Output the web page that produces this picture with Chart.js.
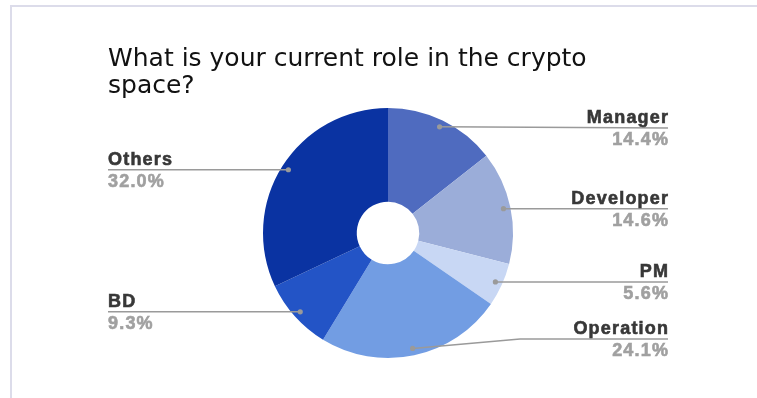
<!DOCTYPE html>
<html>
<head>
<meta charset="utf-8">
<script src="https://cdn.jsdelivr.net/npm/chart.js@4"></script>
<style>
  html, body { margin: 0; padding: 0; background: #ffffff; overflow: hidden; }
  #frame {
    position: absolute; left: 10px; top: 5px; width: 747px; height: 393px;
    border-left: 2px solid #dcdcea; border-top: 2px solid #dcdcea; box-sizing: border-box;
  }
  #wrap { position: absolute; left: 0; top: 0; width: 757px; height: 398px; }
</style>
</head>
<body>
<div id="frame"></div>
<div id="wrap"><canvas id="c"></canvas></div>
<script>
// Survey answers: share of respondents per role (percent)
const roles = ['Manager', 'Developer', 'PM', 'Operation', 'BD', 'Others'];
const shares = [14.4, 14.6, 5.6, 24.1, 9.3, 32.0];
const sliceColors = ['#4f6bbf', '#9badd9', '#c8d7f4', '#729de3', '#2354c6', '#0a33a2'];
const titleLines = ['What is your current role in the crypto', 'space?'];

// Leader lines with name / percentage labels in two columns beside the ring
const leaderLabels = {
  id: 'leaderLabels',
  afterDatasetsDraw(chart) {
    const { ctx, chartArea } = chart;
    const meta = chart.getDatasetMeta(0);
    ctx.save();
    meta.data.forEach((arc, i) => {
      const p = arc.getProps(['x', 'y', 'startAngle', 'endAngle', 'outerRadius'], true);
      const mid = (p.startAngle + p.endAngle) / 2;
      const dotR = p.outerRadius - 7;
      const dx = p.x + Math.cos(mid) * dotR;
      const dy = p.y + Math.sin(mid) * dotR;
      const right = Math.cos(mid) >= 0;
      const lineY = Math.min(Math.max(dy, chartArea.top + 20), chartArea.bottom - 19);
      const bendX = right ? p.x + p.outerRadius + 7 : p.x - p.outerRadius - 7;
      const endX = right ? chartArea.right : chartArea.left;

      ctx.strokeStyle = '#9a9a9a';
      ctx.lineWidth = 1.5;
      ctx.beginPath();
      ctx.moveTo(dx, dy);
      if (Math.abs(lineY - dy) > 2) ctx.lineTo(bendX, lineY);
      ctx.lineTo(endX, lineY);
      ctx.stroke();

      ctx.fillStyle = '#9a9a9a';
      ctx.beginPath();
      ctx.arc(dx, dy, 2.6, 0, Math.PI * 2);
      ctx.fill();

      ctx.font = 'bold 18px "Liberation Sans", Arial, sans-serif';
      ctx.letterSpacing = '1.2px';
      ctx.textAlign = right ? 'right' : 'left';
      ctx.textBaseline = 'alphabetic';
      ctx.lineWidth = 0.6;
      const tx = right ? endX + 1.2 : endX;
      const valueText = shares[i].toFixed(1) + '%';
      ctx.fillStyle = ctx.strokeStyle = '#383838';
      ctx.fillText(roles[i], tx, lineY - 5);
      ctx.strokeText(roles[i], tx, lineY - 5);
      ctx.fillStyle = ctx.strokeStyle = '#a0a0a0';
      ctx.fillText(valueText, tx, lineY + 17);
      ctx.strokeText(valueText, tx, lineY + 17);
    });
    ctx.restore();
  }
};

new Chart(document.getElementById('c'), {
  type: 'doughnut',
  data: {
    labels: roles,
    datasets: [{
      data: shares,
      backgroundColor: sliceColors,
      borderWidth: 0,
      hoverOffset: 0
    }]
  },
  options: {
    responsive: true,
    maintainAspectRatio: false,
    animation: false,
    radius: 125,
    cutout: '25%',
    layout: { padding: { top: 0, left: 108, right: 89, bottom: 40 } },
    plugins: {
      legend: { display: false },
      tooltip: { enabled: false },
      title: {
        display: true,
        text: titleLines,
        align: 'start',
        color: '#111111',
        font: { family: '"DejaVu Sans", Verdana, sans-serif', size: 25, weight: 'normal', lineHeight: 1.06 },
        padding: { top: 46.5, bottom: 8.5 }
      }
    }
  },
  plugins: [leaderLabels]
});
</script>
</body>
</html>
